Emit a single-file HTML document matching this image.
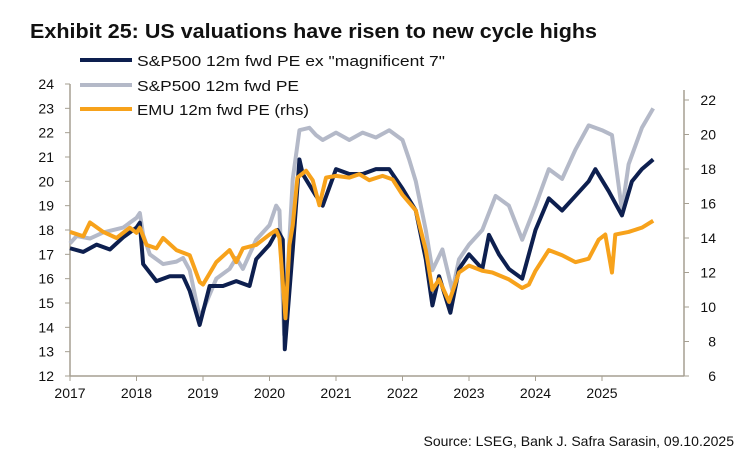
<!DOCTYPE html>
<html><head><meta charset="utf-8"><style>
body{margin:0;background:#fff;width:744px;height:458px;overflow:hidden;font-family:"Liberation Sans",sans-serif}
</style></head><body>
<svg id="c" width="744" height="458" xmlns="http://www.w3.org/2000/svg">
<text x="30" y="38" font-size="20" font-weight="bold" fill="#111" textLength="567" lengthAdjust="spacingAndGlyphs">Exhibit 25: US valuations have risen to new cycle highs</text>
<g id="axes"></g><g id="series"></g>
<g>
<line x1="80" y1="60" x2="132" y2="60" stroke="#0d1f4f" stroke-width="4"/>
<text x="137" y="66" font-size="15" fill="#111" textLength="308" lengthAdjust="spacingAndGlyphs">S&amp;P500 12m fwd PE ex "magnificent 7"</text>
<line x1="80" y1="85" x2="132" y2="85" stroke="#b4b9c8" stroke-width="4"/>
<text x="137" y="91" font-size="15" fill="#111" textLength="162" lengthAdjust="spacingAndGlyphs">S&amp;P500 12m fwd PE</text>
<line x1="80" y1="109" x2="132" y2="109" stroke="#f7a21b" stroke-width="4"/>
<text x="137" y="115" font-size="15" fill="#111" textLength="172" lengthAdjust="spacingAndGlyphs">EMU 12m fwd PE (rhs)</text>
</g>
<text x="734" y="446" font-size="14" fill="#111" text-anchor="end">Source: LSEG, Bank J. Safra Sarasin, 09.10.2025</text>
</svg>
<script>
const xTicks=[2017,2018,2019,2020,2021,2022,2023,2024,2025];
const leftTicks=[12,13,14,15,16,17,18,19,20,21,22,23,24];
const rightTicks=[6,8,10,12,14,16,18,20,22];
const spDates=[2017.0,2017.1,2017.3,2017.5,2017.8,2018.0,2018.05,2018.1,2018.2,2018.4,2018.6,2018.7,2018.8,2018.95,2019.0,2019.2,2019.4,2019.5,2019.6,2019.8,2020.0,2020.1,2020.15,2020.22,2020.35,2020.45,2020.6,2020.7,2020.8,2021.0,2021.2,2021.4,2021.6,2021.8,2022.0,2022.1,2022.2,2022.35,2022.45,2022.6,2022.75,2022.85,2023.0,2023.2,2023.4,2023.6,2023.8,2024.0,2024.2,2024.4,2024.6,2024.8,2025.0,2025.15,2025.3,2025.4,2025.6,2025.77];
const spValues=[17.45,17.75,17.65,17.9,18.1,18.5,18.7,17.8,17.0,16.6,16.7,16.85,16.35,14.4,14.7,16.0,16.4,16.85,16.4,17.6,18.2,19.0,18.8,13.7,20.1,22.1,22.2,21.9,21.7,22.0,21.7,22.0,21.8,22.1,21.7,20.9,20.0,18.0,16.35,17.2,15.5,16.8,17.4,18.0,19.4,19.0,17.6,19.0,20.5,20.1,21.3,22.3,22.1,21.9,18.8,20.7,22.2,23.0];
const exDates=[2017.0,2017.2,2017.4,2017.6,2017.8,2018.0,2018.05,2018.1,2018.3,2018.5,2018.7,2018.8,2018.95,2019.1,2019.3,2019.5,2019.7,2019.8,2020.0,2020.12,2020.2,2020.23,2020.35,2020.45,2020.5,2020.7,2020.8,2021.0,2021.2,2021.4,2021.6,2021.8,2022.0,2022.2,2022.35,2022.45,2022.55,2022.72,2022.85,2023.0,2023.2,2023.3,2023.45,2023.6,2023.8,2024.0,2024.2,2024.4,2024.6,2024.8,2024.9,2025.1,2025.3,2025.45,2025.6,2025.77];
const exValues=[17.25,17.1,17.4,17.2,17.7,18.1,18.3,16.6,15.9,16.1,16.1,15.5,14.1,15.7,15.7,15.9,15.7,16.8,17.4,18.0,17.6,13.1,17.2,20.9,20.3,19.4,19.0,20.5,20.3,20.3,20.5,20.5,19.7,18.8,16.8,14.9,16.1,14.6,16.4,17.0,16.4,17.8,17.0,16.4,16.0,18.0,19.3,18.8,19.4,20.0,20.5,19.6,18.6,20.0,20.5,20.9];
const emuDates=[2017.0,2017.2,2017.3,2017.5,2017.7,2017.9,2018.0,2018.05,2018.15,2018.3,2018.4,2018.6,2018.8,2018.95,2019.0,2019.2,2019.4,2019.5,2019.6,2019.8,2020.0,2020.1,2020.15,2020.24,2020.3,2020.35,2020.42,2020.55,2020.65,2020.75,2020.85,2021.0,2021.2,2021.35,2021.5,2021.7,2021.85,2022.0,2022.2,2022.35,2022.45,2022.55,2022.7,2022.85,2023.0,2023.2,2023.35,2023.6,2023.8,2023.9,2024.0,2024.2,2024.4,2024.6,2024.8,2024.95,2025.05,2025.15,2025.2,2025.4,2025.6,2025.77];
const emuValues=[14.35,14.1,14.9,14.35,14.0,14.6,14.3,14.6,13.6,13.4,14.0,13.3,13.0,11.45,11.3,12.6,13.3,12.6,13.4,13.6,14.2,14.45,14.0,9.35,13.6,14.75,17.5,17.9,17.35,15.9,17.5,17.6,17.5,17.7,17.35,17.6,17.4,16.5,15.6,13.3,11.0,11.6,10.3,12.0,12.4,12.1,12.0,11.6,11.1,11.3,12.1,13.3,13.0,12.6,12.8,13.9,14.2,12.0,14.2,14.35,14.6,15.0];
const NS="http://www.w3.org/2000/svg";
const X0=70,X1=684,YT=84,YB=376;
const xs=d=>X0+(d-2017)*66.5;
const yl=v=>YB-(v-12)*(YB-YT)/12;
const yr=v=>YB-(v-6)*(YB-100)/16;
function mk(tag,attrs,parent){const e=document.createElementNS(NS,tag);for(const k in attrs)e.setAttribute(k,attrs[k]);parent.appendChild(e);return e;}
const ax=document.getElementById('axes'),sr=document.getElementById('series');
const ac="#a59f92";
let a=mk('line',{x1:X0,y1:YT,x2:X0,y2:YB,stroke:ac,'stroke-width':1.5},ax);

a=mk('line',{x1:X1,y1:90,x2:X1,y2:YB,stroke:ac,'stroke-width':1.5},ax);

a=mk('line',{x1:X0,y1:YB,x2:X1,y2:YB,stroke:ac,'stroke-width':1.5},ax);

leftTicks.forEach(v=>{mk('line',{x1:X0-5,y1:yl(v),x2:X0,y2:yl(v),stroke:ac},ax);
const t=mk('text',{x:54,y:yl(v)+5,'font-size':14,'text-anchor':'end',fill:'#111'},ax);t.textContent=v;
});
rightTicks.forEach(v=>{mk('line',{x1:X1,y1:yr(v),x2:X1+5,y2:yr(v),stroke:ac},ax);
const t=mk('text',{x:716,y:yr(v)+5,'font-size':14,'text-anchor':'end',fill:'#111'},ax);t.textContent=v;
});
xTicks.forEach(v=>{mk('line',{x1:xs(v),y1:YB,x2:xs(v),y2:YB+5,stroke:ac},ax);
const t=mk('text',{x:xs(v),y:YB+22,'font-size':14,'text-anchor':'middle',fill:'#111'},ax);t.textContent=v;
});
function line(d,v,yf,col,name){const p=mk('polyline',{points:d.map((x,i)=>xs(x)+','+yf(v[i])).join(' '),fill:'none',stroke:col,'stroke-width':4,'stroke-linejoin':'round'},sr);
}
line(spDates,spValues,yl,"#b4b9c8",'sp500-line');
line(exDates,exValues,yl,"#0d1f4f",'sp500-ex-mag7-line');
line(emuDates,emuValues,yr,"#f7a21b",'emu-line');
</script>
</body></html>
